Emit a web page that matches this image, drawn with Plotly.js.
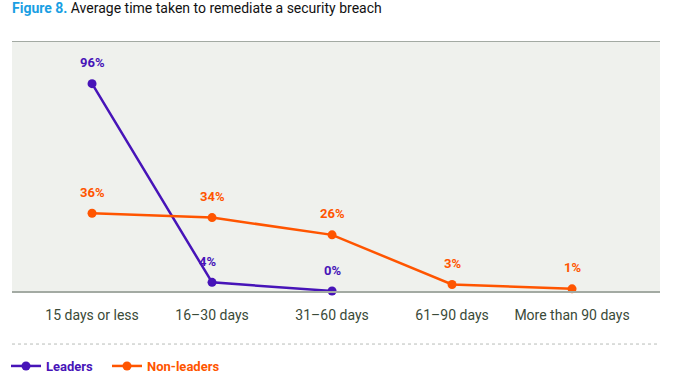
<!DOCTYPE html>
<html><head><meta charset="utf-8">
<script src="https://cdn.plot.ly/plotly-3.0.1.min.js"></script>
<style>html,body{margin:0;padding:0;background:#fff}#chart{width:680px;height:376px}</style>
</head><body><div id="chart"></div>
<script>
const categories = ["15 days or less", "16–30 days", "31–60 days", "61–90 days", "More than 90 days"];
const leaders = [96, 4, 0];
const nonLeaders = [36, 34, 26, 3, 1];
const purple = "#4714b8";
const orange = "#ff5500";

const traces = [
  {x: categories.slice(0, leaders.length), y: leaders, name: '<b style="color:' + purple + '">Leaders</b>',
   type: 'scatter', mode: 'lines+markers', line: {color: purple, width: 2.5}, legend: 'legend',
   marker: {color: purple, size: 9}, cliponaxis: false, hoverinfo: 'none'},
  {x: categories, y: nonLeaders, name: '<b style="color:' + orange + '">Non-leaders</b>',
   type: 'scatter', mode: 'lines+markers', line: {color: orange, width: 2.5}, legend: 'legend2',
   marker: {color: orange, size: 9}, cliponaxis: false, hoverinfo: 'none'}
];

const annotations = [];
leaders.forEach((v, i) => annotations.push({x: categories[i], y: v, text: '<b>' + v + '%</b>', showarrow: false,
  yshift: 21, xshift: i === 1 ? -5 : 0, font: {family: 'Roboto, sans-serif', size: 13, color: purple}}));
nonLeaders.forEach((v, i) => annotations.push({x: categories[i], y: v, text: '<b>' + v + '%</b>', showarrow: false,
  yshift: 21, font: {family: 'Roboto, sans-serif', size: 13, color: orange}}));

const legendBase = {orientation: 'h', xref: 'container', yref: 'container', xanchor: 'left', y: 1 - 366/376, yanchor: 'middle',
  font: {family: 'Roboto, sans-serif', size: 13}, bgcolor: 'rgba(0,0,0,0)'};

const layout = {
  width: 680, height: 376,
  margin: {l: 12, r: 20, t: 42, b: 85, autoexpand: false},
  paper_bgcolor: '#ffffff', plot_bgcolor: '#eff1ed',
  title: {text: '<b style="color:#1a9fe3">Figure 8.</b> Average time taken to remediate a security breach',
    xref: 'container', yref: 'container', x: 12/680, xanchor: 'left', y: 1 - 8/376, yanchor: 'middle',
    font: {family: 'Roboto, sans-serif', size: 14, color: '#111'}},
  xaxis: {type: 'category', range: [-0.667, 4.733], showgrid: false, zeroline: false, automargin: false,
    showline: true, mirror: true, linecolor: '#a3aaa3', linewidth: 1.5,
    ticks: 'outside', ticklen: 11, tickcolor: 'rgba(0,0,0,0)',
    tickfont: {family: 'Roboto, sans-serif', size: 14, color: '#3a4a38'}},
  yaxis: {range: [0, 115.3], showgrid: false, zeroline: false, showline: false, showticklabels: false, automargin: false},
  showlegend: true,
  legend: Object.assign({}, legendBase, {x: 6/680}),
  legend2: Object.assign({}, legendBase, {x: 107/680}),
  shapes: [{type: 'line', xref: 'paper', yref: 'paper', x0: 0, x1: 1, y0: -0.213, y1: -0.213,
    line: {color: '#b8bcb8', width: 1, dash: 'dot'}}],
  annotations: annotations
};
Plotly.newPlot('chart', traces, layout, {displayModeBar: false, staticPlot: true});
</script></body></html>
